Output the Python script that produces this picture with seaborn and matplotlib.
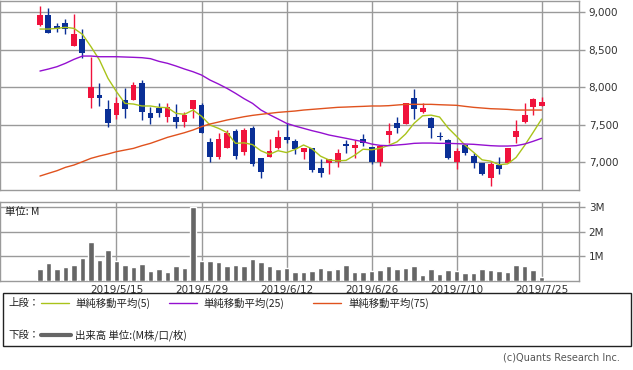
import matplotlib
matplotlib.use('Agg')
import matplotlib.pyplot as plt
from matplotlib.patches import Rectangle
from matplotlib.lines import Line2D
import numpy as np
import seaborn as sns

# trading days shown on the chart
dates = ['2019/4/24', '2019/4/25', '2019/4/26', '2019/5/7', '2019/5/8', '2019/5/9', '2019/5/10',
         '2019/5/13', '2019/5/14', '2019/5/15', '2019/5/16', '2019/5/17', '2019/5/20', '2019/5/21',
         '2019/5/22', '2019/5/23', '2019/5/24', '2019/5/27', '2019/5/28', '2019/5/29', '2019/5/30',
         '2019/5/31', '2019/6/3', '2019/6/4', '2019/6/5', '2019/6/6', '2019/6/7', '2019/6/10',
         '2019/6/11', '2019/6/12', '2019/6/13', '2019/6/14', '2019/6/17', '2019/6/18', '2019/6/19',
         '2019/6/20', '2019/6/21', '2019/6/24', '2019/6/25', '2019/6/26', '2019/6/27', '2019/6/28',
         '2019/7/1', '2019/7/2', '2019/7/3', '2019/7/4', '2019/7/5', '2019/7/8', '2019/7/9',
         '2019/7/10', '2019/7/11', '2019/7/12', '2019/7/16', '2019/7/17', '2019/7/18', '2019/7/19',
         '2019/7/22', '2019/7/23', '2019/7/24', '2019/7/25']
tick_labels = ['2019/5/15', '2019/5/29', '2019/6/12', '2019/6/26', '2019/7/10', '2019/7/25']

open_ = [8827, 8960, 8809, 8849, 8551, 8640, 7858, 7893, 7707, 7627,
         7827, 7827, 8049, 7649, 7725, 7596, 7605, 7538, 7702, 7760,
         7271, 7071, 7191, 7413, 7138, 7458, 7049, 7062, 7182, 7338,
         7284, 7138, 7182, 6916, 6991, 7004, 7240, 7191, 7302, 7204,
         7004, 7360, 7516, 7502, 7858, 7671, 7591, 7351, 7293, 7004,
         7222, 7084, 6991, 6791, 6960, 6982, 7329, 7533, 7729, 7747]
high = [9080, 9053, 8849, 8907, 8973, 8769, 8404, 8058, 7827, 7871,
        7982, 8071, 8093, 7738, 7791, 7782, 7773, 7671, 7827, 7791,
        7316, 7382, 7427, 7436, 7449, 7480, 7049, 7302, 7427, 7524,
        7302, 7182, 7182, 7036, 7036, 7169, 7293, 7293, 7369, 7204,
        7218, 7516, 7604, 7782, 7969, 7782, 7604, 7404, 7302, 7182,
        7240, 7116, 6991, 7004, 7071, 7182, 7560, 7782, 7858, 7871]
low = [8813, 8724, 8729, 8702, 8551, 8382, 7716, 7747, 7471, 7569,
       7582, 7827, 7560, 7507, 7605, 7538, 7458, 7462, 7582, 7382,
       7005, 7036, 7191, 7036, 7093, 6947, 6782, 7062, 7173, 7258,
       7107, 7040, 6871, 6804, 6836, 6929, 7124, 7049, 7218, 6973,
       6951, 7249, 7382, 7502, 7573, 7649, 7316, 7293, 7044, 6902,
       7093, 6916, 6827, 6684, 6836, 6982, 7249, 7524, 7627, 7747]
close = [8960, 8724, 8769, 8769, 8707, 8449, 7996, 7858, 7525, 7782,
         7711, 8027, 7671, 7582, 7658, 7729, 7538, 7627, 7827, 7382,
         7071, 7302, 7391, 7085, 7427, 6969, 6871, 7151, 7338, 7293,
         7173, 7182, 6893, 6849, 7036, 7116, 7218, 7227, 7258, 6996,
         7218, 7413, 7458, 7782, 7711, 7716, 7458, 7333, 7058, 7147,
         7124, 6982, 6836, 6969, 6907, 7182, 7413, 7627, 7840, 7796]

ma5 = [8773, 8773, 8782, 8796, 8782, 8702, 8538, 8360, 8116, 7938,
       7782, 7773, 7747, 7747, 7729, 7725, 7649, 7636, 7693, 7610,
       7493, 7449, 7393, 7249, 7256, 7232, 7149, 7103, 7151, 7126,
       7167, 7227, 7176, 7078, 7027, 7015, 7022, 7089, 7171, 7163,
       7183, 7222, 7269, 7373, 7516, 7616, 7625, 7600, 7455, 7342,
       7224, 7129, 7029, 7012, 6964, 6975, 7061, 7220, 7394, 7572]
ma25 = [8213, 8240, 8271, 8316, 8369, 8413, 8413, 8404, 8404, 8404,
        8400, 8396, 8391, 8378, 8342, 8316, 8280, 8240, 8204, 8160,
        8093, 8040, 7982, 7916, 7845, 7782, 7693, 7631, 7574, 7516,
        7480, 7449, 7418, 7391, 7360, 7338, 7316, 7293, 7271, 7240,
        7222, 7218, 7227, 7236, 7249, 7253, 7253, 7249, 7249, 7245,
        7240, 7236, 7227, 7218, 7213, 7213, 7218, 7240, 7276, 7316]
ma75 = [6813, 6849, 6884, 6929, 6960, 7004, 7049, 7080, 7107, 7138,
        7160, 7182, 7218, 7249, 7289, 7329, 7360, 7391, 7427, 7471,
        7507, 7533, 7560, 7582, 7604, 7622, 7636, 7649, 7662, 7671,
        7680, 7693, 7702, 7711, 7720, 7729, 7733, 7738, 7742, 7747,
        7747, 7751, 7760, 7769, 7769, 7769, 7769, 7764, 7760, 7756,
        7742, 7729, 7720, 7711, 7707, 7702, 7693, 7693, 7693, 7693]

# volume in millions of shares
volume = [0.48, 0.74, 0.48, 0.56, 0.64, 0.94, 1.56, 0.85, 1.27, 0.80,
          0.64, 0.56, 0.70, 0.41, 0.49, 0.37, 0.60, 0.52, 3.00, 0.80,
          0.80, 0.76, 0.60, 0.64, 0.60, 0.89, 0.76, 0.60, 0.48, 0.52,
          0.37, 0.37, 0.41, 0.52, 0.45, 0.48, 0.64, 0.37, 0.37, 0.41,
          0.45, 0.60, 0.48, 0.52, 0.60, 0.23, 0.48, 0.27, 0.45, 0.41,
          0.33, 0.33, 0.48, 0.45, 0.41, 0.37, 0.64, 0.60, 0.45, 0.15]

sns.set_theme(style='white')
plt.rcParams['font.family'] = ['DejaVu Sans', 'Noto Sans CJK JP']
cjk = ['Noto Sans CJK JP', 'DejaVu Sans']

UP = '#F0123C'
DOWN = '#0A2F96'
GRID = '#9A9A9A'

idx = np.arange(len(dates))
tick_pos = [dates.index(t) for t in tick_labels]
o = np.array(open_)
c = np.array(close)
up = c >= o
colors = np.where(up, UP, DOWN)

fig = plt.figure(figsize=(6.33, 3.70), dpi=100)
ax1 = fig.add_axes([0.0, 0.4857, 0.9147, 0.5116])
ax2 = fig.add_axes([0.0, 0.2414, 0.9147, 0.2137])

# ---- price panel ----
ax1.vlines(idx, low, high, colors=colors, lw=1, zorder=3)
body = np.maximum(np.abs(c - o), 14)
ax1.bar(idx, body, bottom=np.minimum(o, c), width=0.7, color=colors, linewidth=0, zorder=4)
sns.lineplot(x=idx, y=ma5, ax=ax1, color='#A9C31A', lw=1, zorder=5)
sns.lineplot(x=idx, y=ma25, ax=ax1, color='#9410D0', lw=1, zorder=5)
sns.lineplot(x=idx, y=ma75, ax=ax1, color='#E0521E', lw=1, zorder=5)

ax1.set_xlim(-4.7, 63.4)
ax1.set_ylim(6623, 9147)
ax1.set_yticks([7000, 7500, 8000, 8500, 9000])
ax1.set_yticklabels(['7,000', '7,500', '8,000', '8,500', '9,000'])
ax1.set_xticks(tick_pos)
ax1.set_xticklabels([])
ax1.yaxis.tick_right()

# ---- volume panel ----
sns.barplot(x=idx, y=volume, ax=ax2, color='#666666', saturation=1, width=0.67, zorder=3)
ax2.set_xlim(-4.7, 63.4)
ax2.set_ylim(0, 3.23)
ax2.set_yticks([1, 2, 3])
ax2.set_yticklabels(['1M', '2M', '3M'])
ax2.set_xticks(tick_pos)
ax2.set_xticklabels(tick_labels)
ax2.yaxis.tick_right()
ax2.text(0.008, 0.93, '単位: M', transform=ax2.transAxes, fontsize=7.5,
         family=cjk, va='top', ha='left', color='#222222')

for ax in (ax1, ax2):
    ax.set_xlabel('')
    ax.set_ylabel('')
    ax.grid(True, color=GRID, lw=1, zorder=0)
    ax.set_axisbelow(True)
    for s in ax.spines.values():
        s.set_color(GRID)
        s.set_linewidth(1)
    ax.tick_params(axis='y', which='both', right=True, length=4, width=1, color=GRID,
                   labelsize=7.5, labelcolor='#333333', pad=3)
    ax.tick_params(axis='x', length=0, labelsize=7.5, labelcolor='#333333', pad=3)

# ---- legend box ----
fig.patches.append(Rectangle((3 / 633, 1 - 346 / 370), 628 / 633, 53 / 370,
                             transform=fig.transFigure, fill=False, edgecolor='#222222', lw=1))

def fx(px):
    return px / 633

def fy(py):
    return 1 - py / 370

row1, row2 = 303, 335
fig.text(fx(8), fy(row1), '上段：', family=cjk, fontsize=7.5, va='center', color='#222222')
fig.text(fx(8), fy(row2), '下段：', family=cjk, fontsize=7.5, va='center', color='#222222')
legend_items = [
    (41, 69, '#A9C31A', 75, '単純移動平均(5)'),
    (169, 197, '#9410D0', 203, '単純移動平均(25)'),
    (313, 341, '#E0521E', 348, '単純移動平均(75)'),
]
for x0, x1, col, tx, label in legend_items:
    fig.add_artist(Line2D([fx(x0), fx(x1)], [fy(row1), fy(row1)], color=col, lw=1,
                          transform=fig.transFigure))
    fig.text(fx(tx), fy(row1), label, family=cjk, fontsize=7.5, va='center', color='#222222')
fig.add_artist(Line2D([fx(41), fx(71)], [fy(row2), fy(row2)], color='#666666', lw=3,
                      transform=fig.transFigure))
fig.text(fx(75), fy(row2), '出来高 単位:(M株/口/枚)', family=cjk, fontsize=7.5,
         va='center', color='#222222')

fig.text(fx(620), fy(357), '(c)Quants Research Inc.', fontsize=7, ha='right', va='center',
         color='#555555')

fig.savefig('out.png', dpi=100, facecolor='white')
